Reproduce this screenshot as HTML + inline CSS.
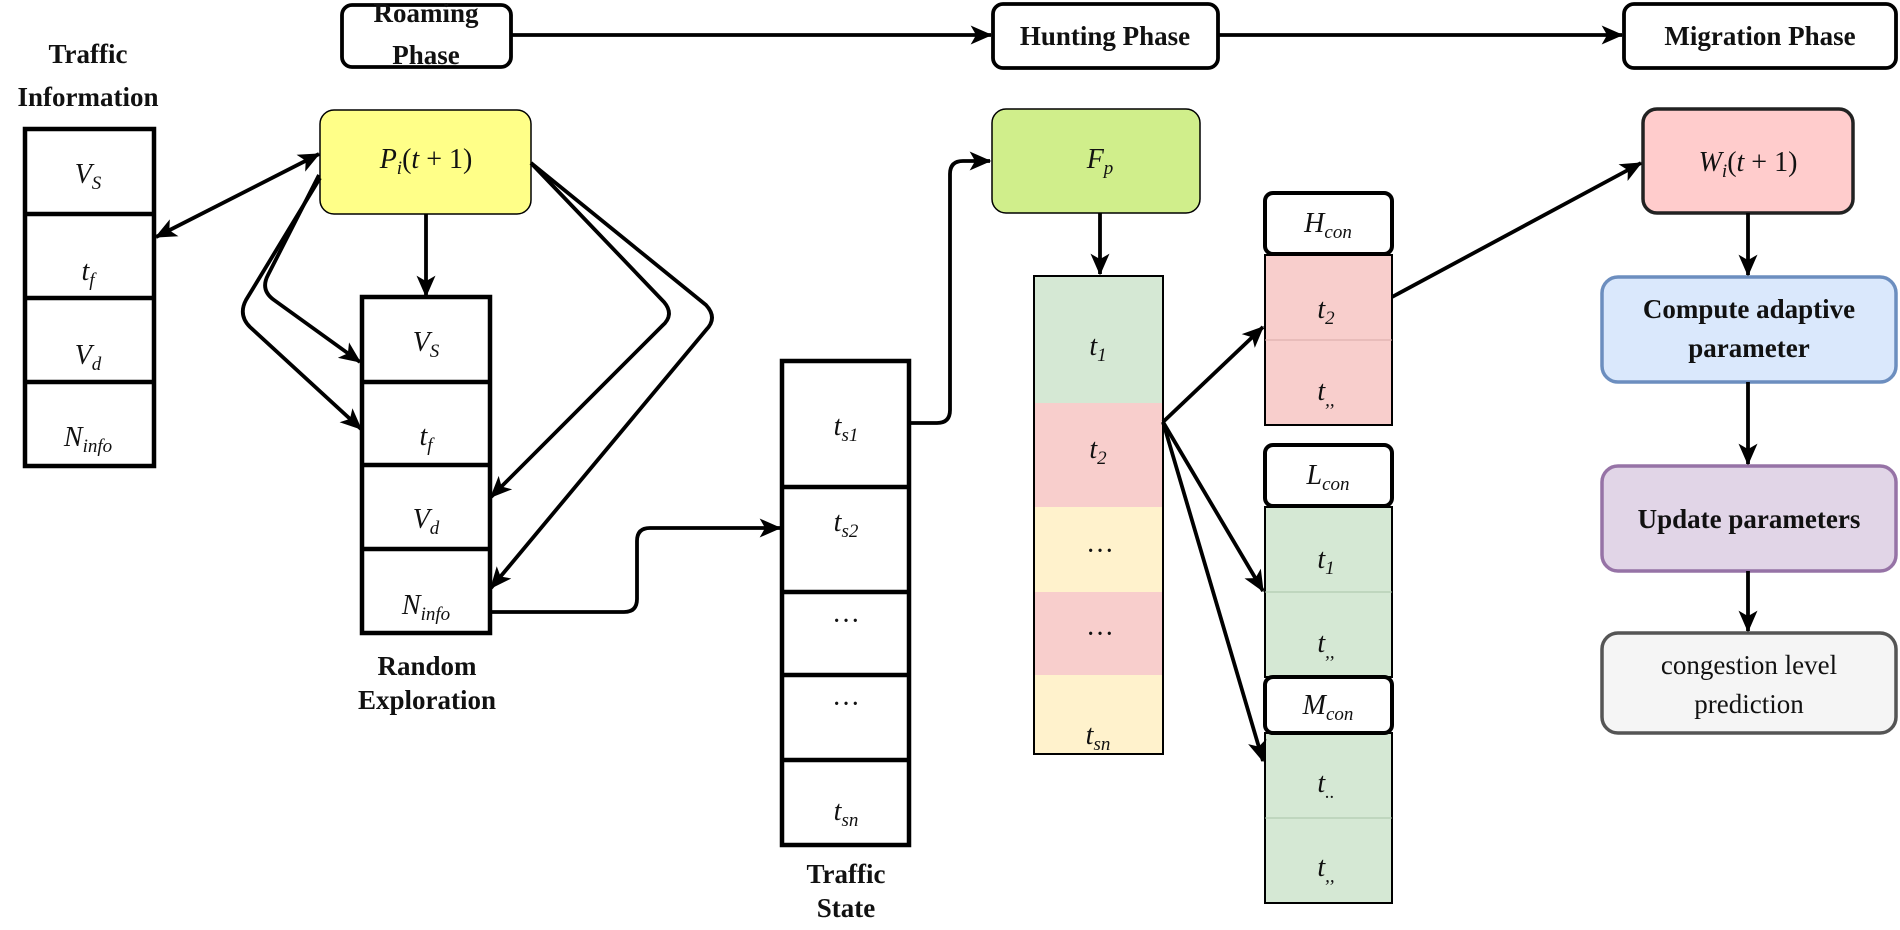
<!DOCTYPE html>
<html><head><meta charset="utf-8"><style>
html,body{margin:0;padding:0;background:#fff;}
svg{display:block;}
.lb{font-family:"Liberation Serif",serif;font-weight:bold;font-size:27px;fill:#111;text-anchor:middle;}
.m{font-family:"Liberation Serif",serif;font-style:italic;font-size:28px;fill:#111;text-anchor:middle;}
.s{font-size:19px;}
</style></head><body>
<svg width="1900" height="930" viewBox="0 0 1900 930" xmlns="http://www.w3.org/2000/svg">
<defs>
<marker id="a" viewBox="0 0 16 14" refX="15" refY="7" markerWidth="22" markerHeight="19" markerUnits="userSpaceOnUse" orient="auto-start-reverse">
<path d="M0,0 L16,7 L0,14 L4,7 Z" fill="#000"/></marker>
</defs>
<g fill="none" stroke="#000" stroke-width="3.8">
<rect x="342" y="5" width="169" height="62" rx="10" fill="#fff"/>
<rect x="993" y="4" width="225" height="64" rx="10" fill="#fff"/>
<rect x="1624" y="4" width="272" height="64" rx="10" fill="#fff"/>
<line x1="511" y1="35" x2="991" y2="35" marker-end="url(#a)"/>
<line x1="1218" y1="35" x2="1622" y2="35" marker-end="url(#a)"/>
<rect x="25" y="129" width="129" height="337" fill="#fff" stroke-width="4.5"/>
<line x1="25" y1="214" x2="154" y2="214" stroke-width="4.5"/>
<line x1="25" y1="298" x2="154" y2="298" stroke-width="4.5"/>
<line x1="25" y1="382" x2="154" y2="382" stroke-width="4.5"/>
<rect x="320" y="110" width="211" height="104" rx="14" fill="#ffff88" stroke-width="1.5"/>
<rect x="362" y="297" width="128" height="336" fill="#fff" stroke-width="4.5"/>
<line x1="362" y1="382" x2="490" y2="382" stroke-width="4.5"/>
<line x1="362" y1="465" x2="490" y2="465" stroke-width="4.5"/>
<line x1="362" y1="549" x2="490" y2="549" stroke-width="4.5"/>
<rect x="782" y="361" width="127" height="484" fill="#fff" stroke-width="4.5"/>
<line x1="782" y1="487" x2="909" y2="487" stroke-width="4.5"/>
<line x1="782" y1="592" x2="909" y2="592" stroke-width="4.5"/>
<line x1="782" y1="675" x2="909" y2="675" stroke-width="4.5"/>
<line x1="782" y1="760" x2="909" y2="760" stroke-width="4.5"/>
<rect x="992" y="109" width="208" height="104" rx="14" fill="#d0ee8b" stroke-width="1.5"/>
<rect x="1034" y="276" width="129" height="478" fill="#d5e8d4" stroke="none"/>
<rect x="1034" y="403" width="129" height="104" fill="#f8cecc" stroke="none"/>
<rect x="1034" y="507" width="129" height="85" fill="#fff2cc" stroke="none"/>
<rect x="1034" y="592" width="129" height="83" fill="#f8cecc" stroke="none"/>
<rect x="1034" y="675" width="129" height="79" fill="#fff2cc" stroke="none"/>
<rect x="1034" y="276" width="129" height="478" stroke-width="2"/>
<rect x="1265" y="193" width="127" height="61" rx="8" fill="#fff" stroke-width="4"/>
<rect x="1265" y="255" width="127" height="170" fill="#f8cecc" stroke-width="2"/>
<line x1="1265" y1="340" x2="1392" y2="340" stroke="#d9a9a7" stroke-width="1"/>
<rect x="1265" y="445" width="127" height="61" rx="8" fill="#fff" stroke-width="4"/>
<rect x="1265" y="507" width="127" height="170" fill="#d5e8d4" stroke-width="2"/>
<line x1="1265" y1="592" x2="1392" y2="592" stroke="#a9c4a7" stroke-width="1"/>
<rect x="1265" y="733" width="127" height="170" fill="#d5e8d4" stroke-width="2"/>
<line x1="1265" y1="818" x2="1392" y2="818" stroke="#a9c4a7" stroke-width="1"/>
<rect x="1265" y="677" width="127" height="56" rx="8" fill="#fff" stroke-width="4"/>
<rect x="1643" y="109" width="210" height="104" rx="14" fill="#ffcccc" stroke="#222" stroke-width="3.5"/>
<rect x="1602" y="277" width="294" height="105" rx="16" fill="#dae8fc" stroke="#6c8ebf" stroke-width="3.5"/>
<rect x="1602" y="466" width="294" height="105" rx="16" fill="#e1d5e7" stroke="#9673a6" stroke-width="3.5"/>
<rect x="1602" y="633" width="294" height="100" rx="16" fill="#f5f5f5" stroke="#555" stroke-width="3.5"/>
<line x1="1748" y1="213" x2="1748" y2="275" marker-end="url(#a)"/>
<line x1="1748" y1="382" x2="1748" y2="464" marker-end="url(#a)"/>
<line x1="1748" y1="571" x2="1748" y2="631" marker-end="url(#a)"/>
<line x1="156" y1="237" x2="319" y2="154" marker-start="url(#a)" marker-end="url(#a)"/>
<line x1="426" y1="214" x2="426" y2="296" marker-end="url(#a)"/>
<path d="M319,175 L268,275 Q260,290 274,300 L360,362" marker-end="url(#a)"/>
<path d="M320,178 L246,300 Q238,315 250,327 L361,429" marker-end="url(#a)"/>
<path d="M531,163 L664,302 Q675,315 662,326 L491,497" marker-end="url(#a)"/>
<path d="M531,163 L706,305 Q718,318 706,330 L491,588" marker-end="url(#a)"/>
<path d="M490,612 L624,612 Q637,612 637,599 L637,541 Q637,528 650,528 L780,528" marker-end="url(#a)"/>
<path d="M909,423 L937,423 Q950,423 950,410 L950,174 Q950,161 963,161 L990,161" marker-end="url(#a)"/>
<line x1="1100" y1="213" x2="1100" y2="274" marker-end="url(#a)"/>
<line x1="1163" y1="422" x2="1263" y2="327" marker-end="url(#a)"/>
<line x1="1163" y1="422" x2="1263" y2="591" marker-end="url(#a)"/>
<line x1="1163" y1="422" x2="1263" y2="761" marker-end="url(#a)"/>
<line x1="1392" y1="297" x2="1641" y2="163" marker-end="url(#a)"/>
</g>
<text class="lb" x="426" y="22">Roaming</text>
<text class="lb" x="426" y="64">Phase</text>
<text class="lb" x="1105" y="45">Hunting Phase</text>
<text class="lb" x="1760" y="45">Migration Phase</text>
<text class="lb" x="88" y="63">Traffic</text>
<text class="lb" x="88" y="106">Information</text>
<text class="lb" x="427" y="675">Random</text>
<text class="lb" x="427" y="709">Exploration</text>
<text class="lb" x="846" y="883">Traffic</text>
<text class="lb" x="846" y="917">State</text>
<text class="lb" x="1749" y="318">Compute adaptive</text>
<text class="lb" x="1749" y="357">parameter</text>
<text class="lb" x="1749" y="528">Update parameters</text>
<text class="lb" x="1749" y="674" style="font-weight:normal">congestion level</text>
<text class="lb" x="1749" y="713" style="font-weight:normal">prediction</text>
<text class="m" x="88" y="183">V<tspan class="s" dy="6">S</tspan></text>
<text class="m" x="88" y="280">t<tspan class="s" dy="6">f</tspan></text>
<text class="m" x="88" y="364">V<tspan class="s" dy="6">d</tspan></text>
<text class="m" x="88" y="446">N<tspan class="s" dy="6">info</tspan></text>
<text class="m" x="426" y="168">P<tspan class="s" dy="6">i</tspan><tspan dy="-6" style="font-style:normal">(</tspan>t<tspan style="font-style:normal"> + 1)</tspan></text>
<text class="m" x="426" y="351">V<tspan class="s" dy="6">S</tspan></text>
<text class="m" x="426" y="445">t<tspan class="s" dy="6">f</tspan></text>
<text class="m" x="426" y="528">V<tspan class="s" dy="6">d</tspan></text>
<text class="m" x="426" y="614">N<tspan class="s" dy="6">info</tspan></text>
<text class="m" x="846" y="435">t<tspan class="s" dy="6">s1</tspan></text>
<text class="m" x="846" y="531">t<tspan class="s" dy="6">s2</tspan></text>
<text class="m" x="846" y="630" style="font-style:normal">···</text>
<text class="m" x="846" y="713" style="font-style:normal">···</text>
<text class="m" x="846" y="820">t<tspan class="s" dy="6">sn</tspan></text>
<text class="m" x="1100" y="168">F<tspan class="s" dy="6">p</tspan></text>
<text class="m" x="1098" y="355">t<tspan class="s" dy="6">1</tspan></text>
<text class="m" x="1098" y="458">t<tspan class="s" dy="6">2</tspan></text>
<text class="m" x="1100" y="560" style="font-style:normal">···</text>
<text class="m" x="1100" y="643" style="font-style:normal">···</text>
<text class="m" x="1098" y="744">t<tspan class="s" dy="6">sn</tspan></text>
<text class="m" x="1328" y="232">H<tspan class="s" dy="6">con</tspan></text>
<text class="m" x="1326" y="318">t<tspan class="s" dy="6">2</tspan></text>
<text class="m" x="1326" y="400">t<tspan class="s" dy="6">,,</tspan></text>
<text class="m" x="1328" y="484">L<tspan class="s" dy="6">con</tspan></text>
<text class="m" x="1326" y="568">t<tspan class="s" dy="6">1</tspan></text>
<text class="m" x="1326" y="652">t<tspan class="s" dy="6">,,</tspan></text>
<text class="m" x="1328" y="714">M<tspan class="s" dy="6">con</tspan></text>
<text class="m" x="1326" y="792">t<tspan class="s" dy="6">..</tspan></text>
<text class="m" x="1326" y="876">t<tspan class="s" dy="6">,,</tspan></text>
<text class="m" x="1748" y="171">W<tspan class="s" dy="6">i</tspan><tspan dy="-6" style="font-style:normal">(</tspan>t<tspan style="font-style:normal"> + 1)</tspan></text>
</svg>
</body></html>
